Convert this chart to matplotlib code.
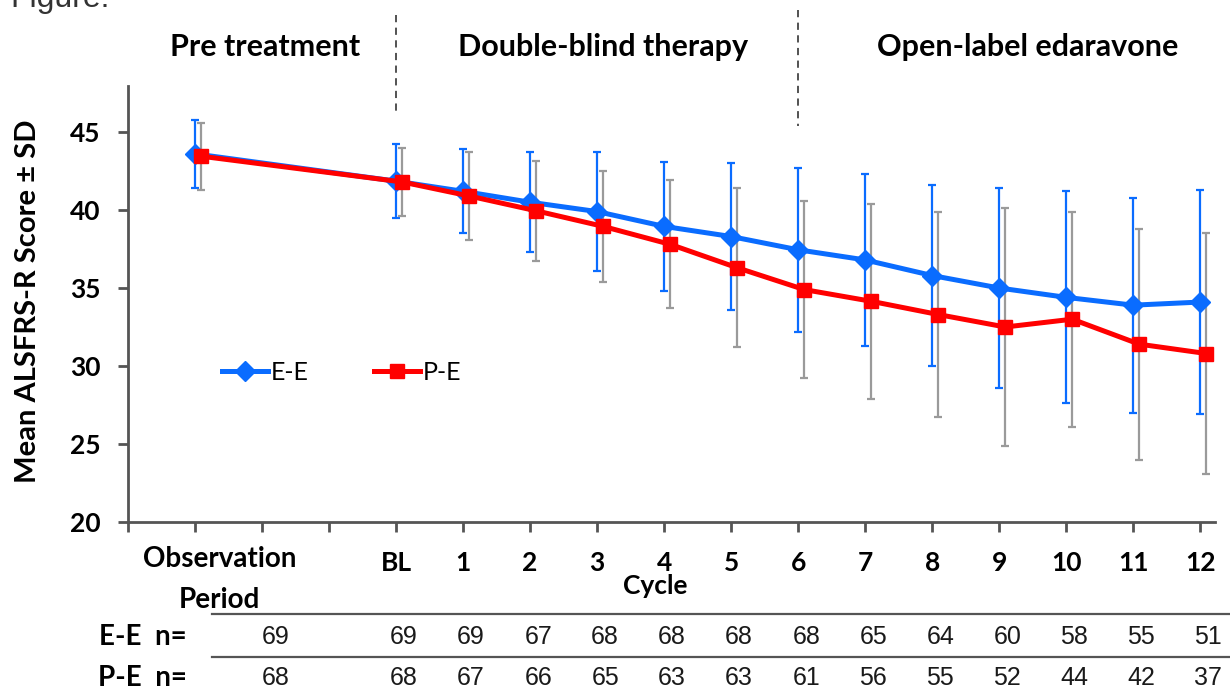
import matplotlib
matplotlib.use("Agg")
import matplotlib.pyplot as plt
import matplotlib.transforms as mtransforms
from matplotlib.lines import Line2D

plt.rcParams['font.family'] = ['Lato', 'DejaVu Sans']

# category slots: observation period, two empty slots, BL, cycles 1-12
x_pos = [0, 3, 4, 5, 6, 7, 8, 9, 10, 11, 12, 13, 14, 15]
tick_pos = list(range(-1, 16))
tick_labels = ['', '', '', '', 'BL', '1', '2', '3', '4', '5', '6', '7', '8', '9', '10', '11', '12']

ee_mean = [43.6, 41.85, 41.2, 40.5, 39.9, 38.95, 38.3, 37.45, 36.8, 35.8, 35.0, 34.4, 33.9, 34.1]
ee_sd = [2.2, 2.35, 2.7, 3.2, 3.8, 4.15, 4.7, 5.25, 5.5, 5.8, 6.4, 6.8, 6.9, 7.2]
pe_mean = [43.45, 41.8, 40.9, 39.95, 38.95, 37.8, 36.3, 34.9, 34.15, 33.3, 32.5, 33.0, 31.4, 30.8]
pe_sd = [2.15, 2.2, 2.85, 3.2, 3.55, 4.1, 5.1, 5.7, 6.25, 6.6, 7.6, 6.9, 7.4, 7.7]

ee_n = [69, 69, 69, 67, 68, 68, 68, 68, 65, 64, 60, 58, 55, 51]
pe_n = [68, 68, 67, 66, 65, 63, 63, 61, 56, 55, 52, 44, 42, 37]

W, H = 1230, 693
BLUE = '#0A6CFF'
RED = '#FF0000'
GRAY = '#9A9A9A'
AXC = '#555555'


def fx(px):
    return px / W


def fy(py):
    return 1 - py / H


fig = plt.figure(figsize=(12.3, 6.93), dpi=100)
ax = fig.add_axes([fx(128), fy(522), fx(1215) - fx(128), fy(86) - fy(522)])
ax.set_xlim(-1, 15.22)
ax.set_ylim(20, 47.95)

pe_x = [x + 0.09 for x in x_pos]

ax.errorbar(x_pos, ee_mean, yerr=ee_sd, fmt='none', ecolor=BLUE, elinewidth=1.6,
            capsize=3, capthick=1.6, zorder=2)
ax.errorbar(pe_x, pe_mean, yerr=pe_sd, fmt='none', ecolor=GRAY, elinewidth=1.6,
            capsize=3, capthick=1.6, zorder=2)
ax.plot(x_pos, ee_mean, color=BLUE, lw=3.6, marker='D', ms=10, zorder=3)
ax.plot(pe_x, pe_mean, color=RED, lw=3.6, marker='s', ms=10, zorder=4)

for s in ['top', 'right']:
    ax.spines[s].set_visible(False)
for s in ['left', 'bottom']:
    ax.spines[s].set_color(AXC)
    ax.spines[s].set_linewidth(2)

ax.set_yticks([20, 25, 30, 35, 40, 45])
ax.set_xticks(tick_pos)
ax.set_xticklabels(tick_labels)
ax.tick_params(axis='both', colors=AXC, width=2, length=7, direction='out')
ax.tick_params(axis='y', labelsize=19, pad=13, labelcolor='black')
ax.tick_params(axis='x', labelsize=19, pad=14, labelcolor='black')
for lab in ax.get_xticklabels() + ax.get_yticklabels():
    lab.set_fontweight('bold')

# Observation period label (sits off its tick)
xtrans = mtransforms.blended_transform_factory(ax.transData, fig.transFigure)
ax.text(0.37, fy(559), 'Observation', transform=xtrans, ha='center', va='center',
        fontsize=20, fontweight='bold')
ax.text(0.37, fy(600), 'Period', transform=xtrans, ha='center', va='center',
        fontsize=20, fontweight='bold')
fig.text(fx(655), fy(586), 'Cycle', ha='center', va='center', fontsize=19, fontweight='bold')

fig.text(fx(28), fy(301), 'Mean ALSFRS-R Score \u00b1 SD', rotation=90, ha='center',
         va='center', fontsize=21, fontweight='bold')

# phase headers and separators
fig.text(fx(265), fy(47), 'Pre treatment', ha='center', va='center', fontsize=22, fontweight='bold')
fig.text(fx(603), fy(47), 'Double-blind therapy', ha='center', va='center', fontsize=22, fontweight='bold')
fig.text(fx(1028), fy(47), 'Open-label edaravone', ha='center', va='center', fontsize=22, fontweight='bold')
ax.plot([3, 3], [52.5, 46.2], ls=(0, (4, 3)), color='#444444', lw=1.3, clip_on=False)
ax.plot([9, 9], [52.8, 45.4], ls=(0, (4, 3)), color='#444444', lw=1.3, clip_on=False)

fig.text(fx(10), fy(7), 'Figure:', ha='left', va='baseline', fontsize=23,
         family='Liberation Sans', color='#333333')

# legend
handles = [Line2D([], [], color=BLUE, lw=3.6, marker='D', ms=10),
           Line2D([], [], color=RED, lw=3.6, marker='s', ms=10)]
ax.legend(handles, ['E-E', 'P-E'], loc='center left', bbox_to_anchor=(0.0865, 0.344),
          ncol=2, frameon=False, fontsize=18, handlelength=1.85, handletextpad=0.1,
          columnspacing=2.6, borderpad=0, borderaxespad=0)

# n table below the axis
col_x = [1.2] + [x + 0.12 for x in x_pos[1:]]
for x, a, b in zip(col_x, ee_n, pe_n):
    ax.text(x, fy(637), str(a), transform=xtrans, ha='center', va='center',
            fontsize=18, family='Liberation Sans', color='#1a1a1a')
    ax.text(x, fy(678), str(b), transform=xtrans, ha='center', va='center',
            fontsize=18, family='Liberation Sans', color='#1a1a1a')
fig.text(fx(187), fy(637), 'E-E  n=', ha='right', va='center', fontsize=20, fontweight='bold')
fig.text(fx(187), fy(678), 'P-E  n=', ha='right', va='center', fontsize=20, fontweight='bold')
fig.add_artist(Line2D([fx(212), 1], [fy(614), fy(614)], color='#555555', lw=1.6))
fig.add_artist(Line2D([fx(212), 1], [fy(657), fy(657)], color='#555555', lw=1.6))

fig.savefig('out.png', dpi=100)
